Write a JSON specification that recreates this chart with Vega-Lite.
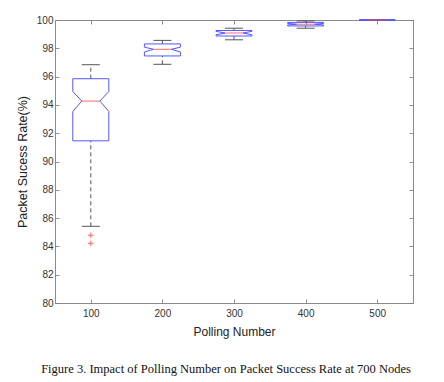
{
  "$schema": "https://vega.github.io/schema/vega-lite/v6.json",
  "width": 358,
  "height": 283,
  "autosize": {"type": "none"},
  "padding": {"left": 55, "top": 20, "right": 31, "bottom": 79},
  "background": "white",
  "config": {
    "view": {"stroke": "#8a8a8a", "strokeWidth": 1},
    "font": "Liberation Sans",
    "axis": {
      "grid": false, "domain": false, "tickSize": -4, "tickColor": "#777", "tickWidth": 0.8,
      "labelFont": "Liberation Sans", "labelFontSize": 10, "labelColor": "#333",
      "titleFont": "Liberation Sans", "titleFontSize": 12, "titleColor": "#222", "titleFontWeight": "normal"
    }
  },
  "title": {
    "text": "Figure 3. Impact of Polling Number on Packet Success Rate at 700 Nodes",
    "orient": "bottom", "anchor": "middle", "frame": "group", "dx": -8, "offset": 26,
    "font": "Liberation Serif", "fontSize": 12.5, "fontWeight": "normal", "color": "#111"
  },
  "datasets": {
    "boxes": [
      {"n": 100, "lw": 85.42, "q1": 91.46, "nlo": 93.54, "med": 94.27, "nhi": 94.95, "q3": 95.85, "uw": 96.84},
      {"n": 200, "lw": 96.87, "q1": 97.46, "nlo": 97.74, "med": 97.93, "nhi": 98.08, "q3": 98.31, "uw": 98.56},
      {"n": 300, "lw": 98.6, "q1": 98.87, "nlo": 98.95, "med": 99.08, "nhi": 99.2, "q3": 99.26, "uw": 99.42},
      {"n": 400, "lw": 99.42, "q1": 99.58, "nlo": 99.65, "med": 99.7, "nhi": 99.76, "q3": 99.83, "uw": 99.93},
      {"n": 500, "lw": 100, "q1": 100, "nlo": 100, "med": 100, "nhi": 100, "q3": 100, "uw": 100}
    ],
    "outliers": [
      {"n": 100, "v": 84.79},
      {"n": 100, "v": 84.22}
    ]
  },
  "data": {"name": "boxes"},
  "resolve": {"axis": {"x": "independent", "y": "independent"}},
  "layer": [
    {
      "mark": {"type": "rule", "color": "#555", "strokeWidth": 1, "strokeDash": [4, 3]},
      "encoding": {
        "x": {"field": "n", "type": "quantitative", "scale": {"domain": [50, 550]},
              "axis": {"values": [100, 200, 300, 400, 500], "title": "Polling Number", "labelPadding": 9, "titlePadding": 8}},
        "y": {"field": "q3", "type": "quantitative", "scale": {"domain": [80, 100]},
              "axis": {"values": [80, 82, 84, 86, 88, 90, 92, 94, 96, 98, 100], "title": "Packet Sucess Rate(%)", "titleFontSize": 12.5, "labelPadding": 6, "titlePadding": 7}},
        "y2": {"field": "uw"}
      }
    },
    {
      "mark": {"type": "rule", "color": "#555", "strokeWidth": 1, "strokeDash": [4, 3]},
      "encoding": {
        "x": {"field": "n", "type": "quantitative", "scale": {"domain": [50, 550]},
              "axis": {"orient": "top", "values": [100, 200, 300, 400, 500], "labels": false, "title": null}},
        "y": {"field": "lw", "type": "quantitative", "scale": {"domain": [80, 100]},
              "axis": {"orient": "right", "values": [80, 82, 84, 86, 88, 90, 92, 94, 96, 98, 100], "labels": false, "title": null}},
        "y2": {"field": "q1"}
      }
    },
    {
      "mark": {"type": "rule", "color": "#555", "strokeWidth": 1, "xOffset": -9, "x2Offset": 9},
      "encoding": {
        "x": {"field": "n", "type": "quantitative", "axis": null}, "x2": {"field": "n"},
        "y": {"field": "uw", "type": "quantitative", "axis": null}
      }
    },
    {
      "mark": {"type": "rule", "color": "#555", "strokeWidth": 1, "xOffset": -9, "x2Offset": 9},
      "encoding": {
        "x": {"field": "n", "type": "quantitative", "axis": null}, "x2": {"field": "n"},
        "y": {"field": "lw", "type": "quantitative", "axis": null}
      }
    },
    {
      "mark": {"type": "rule", "color": "#5555ff", "strokeWidth": 1, "xOffset": -18, "x2Offset": 18},
      "encoding": {
        "x": {"field": "n", "type": "quantitative", "axis": null}, "x2": {"field": "n"},
        "y": {"field": "q3", "type": "quantitative", "axis": null}
      }
    },
    {
      "mark": {"type": "rule", "color": "#5555ff", "strokeWidth": 1, "xOffset": -18, "x2Offset": 18},
      "encoding": {
        "x": {"field": "n", "type": "quantitative", "axis": null}, "x2": {"field": "n"},
        "y": {"field": "q1", "type": "quantitative", "axis": null}
      }
    },
    {
      "mark": {"type": "rule", "color": "#5555ff", "strokeWidth": 1, "xOffset": -18},
      "encoding": {
        "x": {"field": "n", "type": "quantitative", "axis": null},
        "y": {"field": "q3", "type": "quantitative", "axis": null}, "y2": {"field": "nhi"}
      }
    },
    {
      "mark": {"type": "rule", "color": "#5555ff", "strokeWidth": 1, "xOffset": 18},
      "encoding": {
        "x": {"field": "n", "type": "quantitative", "axis": null},
        "y": {"field": "q3", "type": "quantitative", "axis": null}, "y2": {"field": "nhi"}
      }
    },
    {
      "mark": {"type": "rule", "color": "#5555ff", "strokeWidth": 1, "xOffset": -18},
      "encoding": {
        "x": {"field": "n", "type": "quantitative", "axis": null},
        "y": {"field": "q1", "type": "quantitative", "axis": null}, "y2": {"field": "nlo"}
      }
    },
    {
      "mark": {"type": "rule", "color": "#5555ff", "strokeWidth": 1, "xOffset": 18},
      "encoding": {
        "x": {"field": "n", "type": "quantitative", "axis": null},
        "y": {"field": "q1", "type": "quantitative", "axis": null}, "y2": {"field": "nlo"}
      }
    },
    {
      "mark": {"type": "rule", "color": "#5555ff", "strokeWidth": 1, "xOffset": -18, "x2Offset": -9},
      "encoding": {
        "x": {"field": "n", "type": "quantitative", "axis": null}, "x2": {"field": "n"},
        "y": {"field": "nhi", "type": "quantitative", "axis": null}, "y2": {"field": "med"}
      }
    },
    {
      "mark": {"type": "rule", "color": "#5555ff", "strokeWidth": 1, "xOffset": -18, "x2Offset": -9},
      "encoding": {
        "x": {"field": "n", "type": "quantitative", "axis": null}, "x2": {"field": "n"},
        "y": {"field": "nlo", "type": "quantitative", "axis": null}, "y2": {"field": "med"}
      }
    },
    {
      "mark": {"type": "rule", "color": "#5555ff", "strokeWidth": 1, "xOffset": 18, "x2Offset": 9},
      "encoding": {
        "x": {"field": "n", "type": "quantitative", "axis": null}, "x2": {"field": "n"},
        "y": {"field": "nhi", "type": "quantitative", "axis": null}, "y2": {"field": "med"}
      }
    },
    {
      "mark": {"type": "rule", "color": "#5555ff", "strokeWidth": 1, "xOffset": 18, "x2Offset": 9},
      "encoding": {
        "x": {"field": "n", "type": "quantitative", "axis": null}, "x2": {"field": "n"},
        "y": {"field": "nlo", "type": "quantitative", "axis": null}, "y2": {"field": "med"}
      }
    },
    {
      "mark": {"type": "rule", "color": "#ff4444", "strokeWidth": 1, "opacity": 0.8, "xOffset": -9, "x2Offset": 9},
      "encoding": {
        "x": {"field": "n", "type": "quantitative", "axis": null}, "x2": {"field": "n"},
        "y": {"field": "med", "type": "quantitative", "axis": null}
      }
    },
    {
      "data": {"name": "outliers"},
      "mark": {"type": "point", "shape": "M-1,0L1,0M0,-1L0,1", "size": 30, "stroke": "#ff2222", "strokeWidth": 1, "filled": false},
      "encoding": {
        "x": {"field": "n", "type": "quantitative", "axis": null},
        "y": {"field": "v", "type": "quantitative", "axis": null}
      }
    }
  ]
}
